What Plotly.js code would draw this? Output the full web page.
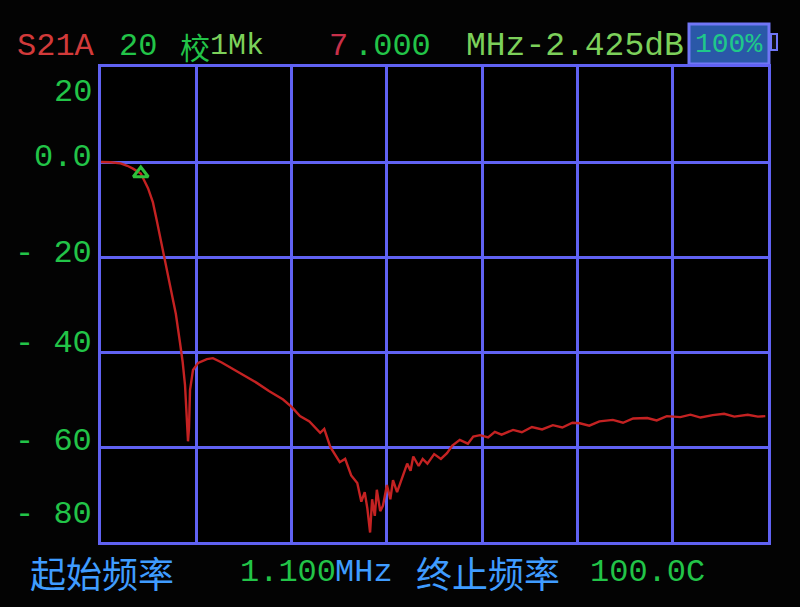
<!DOCTYPE html>
<html>
<head>
<meta charset="utf-8">
<script src="https://cdn.plot.ly/plotly-3.0.1.min.js"></script>
<style>
html,body{margin:0;padding:0;background:#030303;}
#chart{width:800px;height:607px;}
</style>
</head>
<body>
<div id="chart"></div>
<script>
// ---- data ----
const freqMHz = [1.1, 2.5, 4.0, 5.0, 5.85, 7.0, 8.07, 8.8, 9.4, 10.44, 11.0, 11.63, 12.2, 12.81, 13.2, 13.56, 13.8, 14.0, 14.15, 14.3, 14.74, 15.5, 16.8, 17.7, 19.0, 20.2, 22.0, 24.2, 26.0, 28.1, 29.4, 30.6, 32.0, 33.6, 34.2, 35.1, 36.5, 37.3, 38.2, 39.1, 39.7, 40.2, 40.6, 41.0, 41.3, 41.7, 42.0, 42.5, 42.9, 43.5, 44.0, 44.4, 45.0, 45.9, 46.5, 47.0, 47.4, 48.2, 48.8, 49.5, 50.5, 51.5, 52.4, 53.2, 54.3, 55.5, 56.3, 57.3, 58.5, 59.5, 60.5, 62.2, 63.5, 65.0, 66.5, 68.1, 69.5, 71.0, 72.1, 73.5, 75.0, 77.0, 78.5, 80.0, 82.1, 83.5, 85.0, 87.0, 88.5, 90.0, 91.8, 93.5, 95.0, 97.0, 98.5, 99.6];
const s21dB = [0.0, -0.05, -0.3, -0.8, -1.4, -2.425, -5.5, -8.5, -12.5, -20.0, -24.0, -28.4, -32.0, -38.0, -42.0, -47.0, -53.0, -58.8, -56.0, -48.0, -43.8, -42.3, -41.5, -41.3, -42.2, -43.2, -44.6, -46.5, -48.2, -50.0, -51.6, -53.5, -54.6, -57.0, -56.2, -60.0, -63.2, -62.5, -66.0, -67.6, -71.5, -69.5, -73.0, -78.0, -71.0, -74.5, -69.0, -73.5, -72.4, -68.0, -71.0, -67.0, -69.5, -66.0, -63.5, -65.0, -62.0, -64.0, -62.5, -63.5, -61.5, -62.5, -61.3, -59.7, -58.5, -59.3, -57.8, -57.5, -58.0, -56.8, -57.4, -56.4, -56.9, -55.8, -56.3, -55.4, -55.9, -54.9, -55.0, -55.5, -54.6, -54.3, -54.9, -54.0, -53.9, -54.4, -53.5, -53.7, -53.2, -53.8, -53.3, -53.0, -53.6, -53.2, -53.6, -53.5];
const markerFreq = [7.0];
const markerDb = [-2.425];
const yTickValues = [20, 0, -20, -40, -60, -80];
const yTickLabels = ["20", "0.0", "- 20", "- 40", "- 60", "- 80"];
const startFreqLabel = "1.100";
const stopFreqLabel = "100.0C";
const markerFreqText = "7.000";
const markerDbText = "-2.425dB";
const traceName = "S21A";
const scaleText = "20";
const battery = "100%";

// ---- layout geometry (pixels) ----
const L = 101, R = 768, T = 67, B = 542;
const px = p => (p - L) / (R - L);
const py = p => (B - p) / (B - T);

const MONO = "Liberation Mono, DejaVu Sans Mono, monospace";
const CJK = "Noto Sans CJK SC, Liberation Mono, sans-serif";
const GREEN = "#22c448";
const LGREEN = "#7cd05a";
const RED = "#d23a3a";
const BLUE = "#3f9cff";
const GRID = "#6062f2";

const ann = [];
function addText(text, xpx, ypx, color, size, family, anchor) {
  ann.push({text: text, xref: "paper", yref: "paper", x: px(xpx), y: py(ypx),
    xanchor: anchor || "left", yanchor: "middle", showarrow: false,
    font: {family: family || MONO, size: size, color: color}});
}
// y tick labels (drawn just above their grid lines, first/last pulled inside)
const yLabelPix = [92, 157, 253, 343, 441, 514];
yTickLabels.forEach((t, i) => addText(t, 94, yLabelPix[i], GREEN, 32, MONO, "right"));

// top status line
addText(traceName, 15, 46, RED, 32);
addText(scaleText, 117, 46, GREEN, 32);
addText("校", 178, 46, GREEN, 30, CJK);
addText("1Mk", 208, 46, LGREEN, 30);
addText(markerFreqText.charAt(0), 350, 46, "#c8304a", 32, MONO, "right");
addText(markerFreqText.slice(1), 352, 46, GREEN, 32);
addText("MHz" + markerDbText, 464, 46, LGREEN, 33);
addText(battery, 693, 44, "#1fc98a", 28);

// bottom line
addText("起始频率", 28, 572, BLUE, 36, CJK);
addText(startFreqLabel, 238, 572, GREEN, 32);
addText("MHz", 333, 572, BLUE, 32);
addText("终止频率", 414, 572, BLUE, 36, CJK);
addText(stopFreqLabel, 588, 572, GREEN, 32);

const shapes = [
  {type: "rect", xref: "paper", yref: "paper", x0: px(689), x1: px(769), y0: py(64), y1: py(24),
   fillcolor: "#2a58a8", line: {color: "#7076f6", width: 3}, layer: "below"},
  {type: "rect", xref: "paper", yref: "paper", x0: px(771), x1: px(777), y0: py(50), y1: py(34),
   fillcolor: "#111", line: {color: "#7076f6", width: 2}}
];

const traces = [
  {x: freqMHz, y: s21dB, type: "scatter", mode: "lines", name: traceName,
   line: {color: "#c42222", width: 2.4, shape: "linear"}, hoverinfo: "x+y"},
  {x: markerFreq, y: markerDb, type: "scatter", mode: "markers", name: "marker",
   marker: {symbol: "triangle-up-open", size: 13, color: "#2ec03a", line: {width: 3, color: "#2ec03a"}}}
];

const layout = {
  width: 800, height: 607,
  paper_bgcolor: "#030303", plot_bgcolor: "#000000",
  margin: {l: L, r: 800 - R, t: T, b: 607 - B},
  showlegend: false,
  xaxis: {range: [1.1, 100], tick0: 1.1, dtick: (100 - 1.1) / 7, showticklabels: false,
    showgrid: true, gridcolor: GRID, gridwidth: 3, zeroline: false,
    showline: true, mirror: true, linecolor: GRID, linewidth: 3, ticks: ""},
  yaxis: {range: [-80, 20], tickvals: yTickValues, showticklabels: false,
    showgrid: true, gridcolor: GRID, gridwidth: 3, zeroline: false,
    showline: true, mirror: true, linecolor: GRID, linewidth: 3, ticks: ""},
  annotations: ann,
  shapes: shapes
};

Plotly.newPlot("chart", traces, layout, {displayModeBar: false, staticPlot: true});
</script>
</body>
</html>
